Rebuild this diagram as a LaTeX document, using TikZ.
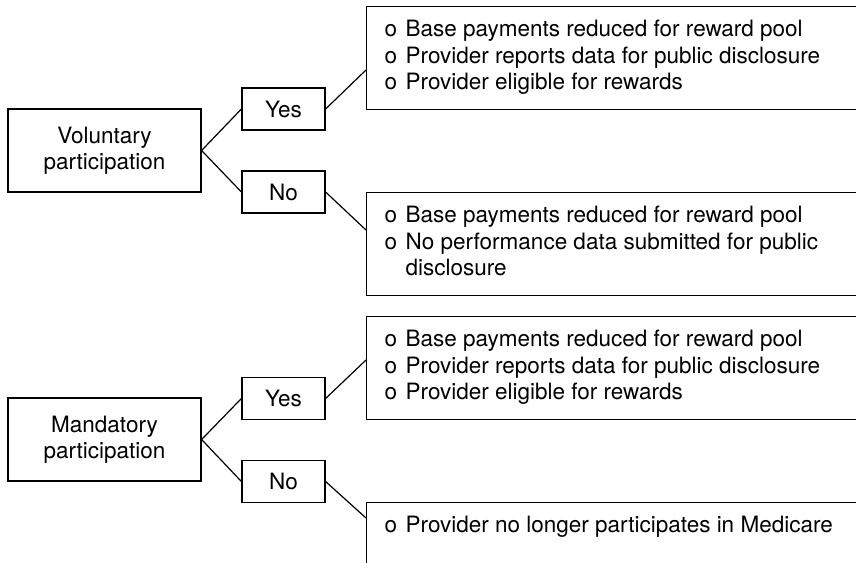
\documentclass[tikz,border=0pt]{standalone}
\usepackage{fontspec}
\setmainfont{TeX Gyre Heros}
\newcommand{\opt}[1]{\par\hangindent=10.5pt\hangafter=1\noindent\makebox[10.5pt][l]{o}\strut#1}
\newcommand{\outtext}[1]{\parbox[t][40pt][t]{236pt}{\raggedright#1}}
\begin{document}
\begin{tikzpicture}[x=0.5pt,y=-0.5pt,line width=0.6pt,
        every node/.style={font=\fontsize{11.25}{13.25}\selectfont},
        choice/.style={draw,minimum width=96.5pt,minimum height=41.5pt,align=center},
        answer/.style={draw,minimum width=41.5pt,minimum height=21pt},
        outcome/.style={draw,anchor=north west,inner xsep=9pt,inner ysep=5.7pt}]
        \useasboundingbox (0,0) rectangle (856,562);
        \clip (0,0) rectangle (856,562);
        % voluntary
        \node[choice] (vol) at (104.5,150.5) {Voluntary\\participation};
        \node[answer] (volyes) at (283.5,109) {Yes};
        \node[answer] (volno) at (283.5,192) {No};
        \node[outcome] (volout1) at (366,6) {\outtext{%
            \opt{Base payments reduced for reward pool}
            \opt{Provider reports data for public disclosure}
            \opt{Provider eligible for rewards}}};
        \node[outcome] (volout2) at (366,192) {\outtext{%
            \opt{Base payments reduced for reward pool}
            \opt{No performance data submitted for public disclosure}}};
        % mandatory
        \node[choice] (man) at (104.5,439.5) {Mandatory\\participation};
        \node[answer] (manyes) at (283.5,398.5) {Yes};
        \node[answer] (manno) at (283.5,481.5) {No};
        \node[outcome] (manout1) at (366,316) {\outtext{%
            \opt{Base payments reduced for reward pool}
            \opt{Provider reports data for public disclosure}
            \opt{Provider eligible for rewards}}};
        \node[outcome] (manout2) at (366,502) {\outtext{%
            \opt{Provider no longer participates in Medicare}}};
        % connectors
        \foreach \c in {vol,man}
        {
            \draw (\c.east)--(\c yes.west);
            \draw (\c.east)--(\c no.west);
        }
        \draw (volyes.east)--([yshift=-32pt]volout1.north west);
        \draw (volno.east)--([yshift=-19pt]volout2.north west);
        \draw (manyes.east)--([yshift=-22pt]manout1.north west);
        \draw (manno.east)--([yshift=-8pt]manout2.north west);
    \end{tikzpicture}
\end{document}
